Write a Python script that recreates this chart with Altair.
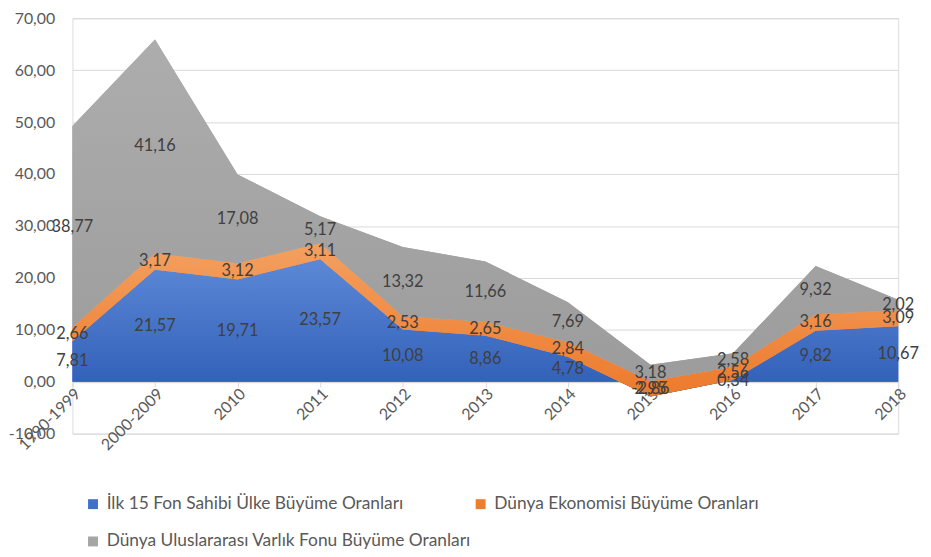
import altair as alt
import pandas as pd

years = ["1990-1999", "2000-2009", "2010", "2011", "2012", "2013", "2014",
         "2015", "2016", "2017", "2018"]
blue = [7.81, 21.57, 19.71, 23.57, 10.08, 8.86, 4.78, -2.86, 0.34, 9.82, 10.67]
orange = [2.66, 3.17, 3.12, 3.11, 2.53, 2.65, 2.84, 2.95, 2.56, 3.16, 3.09]
gray = [38.77, 41.16, 17.08, 5.17, 13.32, 11.66, 7.69, 3.18, 2.58, 9.32, 2.02]
series = ["İlk 15 Fon Sahibi Ülke Büyüme Oranları",
          "Dünya Ekonomisi Büyüme Oranları",
          "Dünya Uluslararası Varlık Fonu Büyüme Oranları"]
colors = ["#4170C8", "#EE7D2F", "#A5A5A5"]
grad_stops = [("#5C88D6", "#2E5DB6"), ("#F4A060", "#EC7A2C"), ("#ADADAD", "#9C9C9C")]
y_ticks = [-10, 0, 10, 20, 30, 40, 50, 60, 70]

rows = []
for k, vals in enumerate([blue, orange, gray]):
    for yr, v in zip(years, vals):
        rows.append({"year": yr, "series": series[k], "order": k, "value": v})
df = pd.DataFrame(rows)

FONT = "Lato"

base = alt.Chart(df).transform_window(
    top="sum(value)",
    sort=[alt.SortField("order")],
    groupby=["year"],
    frame=[None, 0],
).transform_calculate(
    bottom="datum.top - datum.value",
    mid="datum.top - datum.value / 2",
)

x_scale = alt.Scale(type="point", padding=0)
y_scale = alt.Scale(domain=[-10, 70], nice=False, zero=False)

x_enc = alt.X(
    "year:N", sort=years, title=None, scale=x_scale,
    axis=alt.Axis(labelAngle=-45, labelAlign="right", labelBaseline="middle",
                  offset=-52, domainColor="#D9D9D9", tickColor="#D9D9D9",
                  tickSize=5, labelFontSize=16, labelColor="#595959",
                  labelFont=FONT, labelPadding=4, labelOffset=5, grid=False),
)

areas = base.mark_area(interpolate="linear").encode(
    x=x_enc,
    y=alt.Y("top:Q", stack=None, title=None, scale=y_scale,
            axis=alt.Axis(values=y_ticks, format=".2f", grid=True,
                          gridColor="#D9D9D9", domain=False, ticks=False,
                          labelFontSize=16, labelColor="#595959",
                          labelFont=FONT, labelPadding=18)),
    y2="bottom:Q",
    color=alt.Color("series:N", sort=series,
                    scale=alt.Scale(domain=series, range=colors),
                    legend=alt.Legend(orient="none", legendX=12, legendY=481,
                                      direction="horizontal",
                                      columns=2, title=None, padding=0,
                                      symbolType="square", symbolSize=100,
                                      symbolStrokeWidth=0,
                                      labelFontSize=17.5, labelColor="#595959",
                                      labelFont=FONT, labelOffset=5,
                                      columnPadding=0, rowPadding=19,
                                      labelLimit=500)),
    order=alt.Order("order:Q"),
)

grad_layers = []
for k in range(3):
    g = alt.Gradient(gradient="linear", x1=0, x2=0, y1=0, y2=1,
                     stops=[alt.GradientStop(color=grad_stops[k][0], offset=0),
                            alt.GradientStop(color=grad_stops[k][1], offset=1)])
    grad_layers.append(
        base.transform_filter(alt.datum.order == k)
        .mark_area(interpolate="linear", color=g)
        .encode(x=alt.X("year:N", sort=years, scale=x_scale),
                y=alt.Y("top:Q", stack=None, scale=y_scale),
                y2="bottom:Q")
    )

labels = base.mark_text(fontSize=16.5, color="#404040", font=FONT).encode(
    x=alt.X("year:N", sort=years, scale=x_scale),
    y=alt.Y("mid:Q", scale=y_scale),
    text=alt.Text("value:Q", format=".2f"),
)

chart = alt.layer(areas, *grad_layers, labels).properties(
    width=833, height=419,
    autosize=alt.AutoSizeParams(type="none"),
    padding={"left": 65, "top": 8, "right": 25, "bottom": 114},
).configure_view(stroke=None).configure(
    locale={"number": {"decimal": ",", "thousands": ".", "grouping": [3],
                       "currency": ["", ""], "minus": "-"}}
)

chart.save("out.html", embed_options={"renderer": "svg", "actions": False})
